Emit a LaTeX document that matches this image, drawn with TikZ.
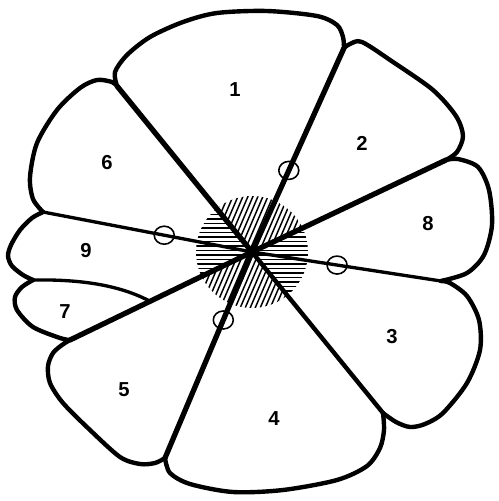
\documentclass[tikz,border=0pt]{standalone}
\usepackage{fontspec}
\setsansfont{Liberation Sans}
\begin{document}
\begin{tikzpicture}[x=0.2mm, y=-0.2mm, line join=round, line cap=round,
    outline/.style={line width=2.5pt},
    spoke/.style={line width=3pt},
    thinspoke/.style={line width=1.9pt},
    hatch/.style={line width=0.85pt},
    valve/.style={line width=0.9pt},
    num/.style={font=\sffamily\bfseries\fontsize{11.5}{13}\selectfont}]
  \useasboundingbox (0,0) rectangle (498,501); % 여백 포함
  \coordinate (c) at (252,252);
  \coordinate (j61) at (117,86);
  \coordinate (j12) at (344,48);
  \coordinate (j28) at (446,160);
  \coordinate (j83) at (441,281);
  \coordinate (j34) at (383,413);
  \coordinate (j45) at (165,458);
  \coordinate (j57) at (70,340);
  \coordinate (j79) at (33,280);
  \coordinate (j96) at (43,212);
  \path (j57) -- (c) coordinate[pos=0.44] (j7);
  \path (c) -- (j12) coordinate[pos=0.40] (e12);
  \path (c) -- (j96) coordinate[pos=0.42] (e96);
  \path (c) -- (j83) coordinate[pos=0.45] (e83);
  \path (c) -- (j45) coordinate[pos=0.33] (e45);
  % 빗금 원
  \begin{scope}
    \clip (c) circle [radius=56];
    \begin{scope}
      \clip (c) -- (j61) -- (j12) -- (j28) -- cycle;
      \foreach \i in {150,155,...,360} \draw[hatch] (\i-30,320) -- (\i+30,180);
    \end{scope}
    \begin{scope}
      \clip (c) -- (j34) -- (j45) -- (j57) -- cycle;
      \foreach \i in {150,155,...,360} \draw[hatch] (\i-30,320) -- (\i+30,180);
    \end{scope}
    \begin{scope}
      \clip (c) -- (j57) -- (j96) -- (j61) -- cycle;
      \foreach \j in {192,196.5,...,312} \draw[hatch] (190,\j) -- (252,\j);
    \end{scope}
    \begin{scope}
      \clip (c) -- (j28) -- (j83) -- (j34) -- cycle;
      \foreach \j in {192,196.5,...,312} \draw[hatch] (252,\j) -- (310,\j);
    \end{scope}
  \end{scope}
  % 꽃잎 바깥선
  \draw[outline] plot[smooth] coordinates {(j61) (115,72) (127,55) (150,37) (183,22) (217,13) (267,11) (317,16) (337,25) (343,37) (j12)};
  \draw[outline] plot[smooth] coordinates {(j12) (350,44) (362,42) (393,62) (433,90) (456,116) (463,136) (457,152) (j28)};
  \draw[outline] plot[smooth] coordinates {(j28) (458,159) (478,167) (489,190) (492,225) (484,255) (467,273) (j83)};
  \draw[outline] plot[smooth] coordinates {(j83) (450,283) (467,296) (479,320) (480,350) (467,383) (443,413) (425,424) (410,427) (396,422) (j34)};
  \draw[outline] plot[smooth] coordinates {(j34) (384,430) (380,448) (367,466) (337,480) (283,490) (233,492) (190,484) (170,473) (j45)};
  \draw[outline] plot[smooth] coordinates {(j45) (155,463) (140,464) (120,457) (90,430) (63,403) (50,383) (48,366) (53,353) (62,345) (j57)};
  \draw[outline] plot[smooth] coordinates {(j57) (60,338) (33,327) (17,310) (15,297) (22,287) (j79)};
  \draw[outline] plot[smooth] coordinates {(j79) (23,275) (12,266) (8,256) (11,245) (20,230) (32,218) (j96)};
  \draw[outline] plot[smooth] coordinates {(j96) (33,199) (30,177) (37,143) (57,110) (80,88) (97,80) (112,82) (j61)};
  \draw[thinspoke] (j79) .. controls (90,279) and (125,288) .. (j7);
  % 중심에서 나가는 경계선
  \draw[spoke] (c) -- (j61);
  \draw[spoke] (c) -- (j12);
  \draw[spoke] (c) -- (j28);
  \draw[thinspoke] (c) -- (j83);
  \draw[outline] (c) -- (j34);
  \draw[spoke] (c) -- (j45);
  \draw[spoke] (c) -- (j57);
  \draw[thinspoke] (c) -- (j96);
  \foreach \e in {e12,e96,e83,e45}
    \draw[valve] (\e) ellipse [x radius=10, y radius=9];
  \node[num] (p1) at (235,90) {1};
  \node[num] (p2) at (362,143) {2};
  \node[num] (p3) at (392,337) {3};
  \node[num] (p4) at (274,419) {4};
  \node[num] (p5) at (124,390) {5};
  \node[num] (p6) at (107,163) {6};
  \node[num] (p7) at (65,312) {7};
  \node[num] (p8) at (428,224) {8};
  \node[num] (p9) at (86,251) {9};
\end{tikzpicture}
\end{document}
